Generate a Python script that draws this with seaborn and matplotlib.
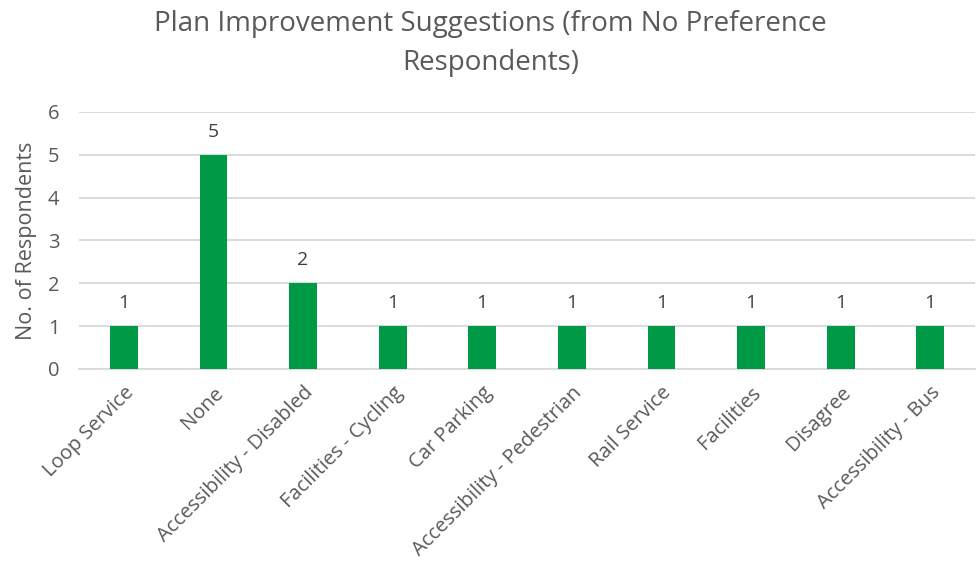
import matplotlib
matplotlib.use("Agg")
import matplotlib.pyplot as plt
import seaborn as sns
import pandas as pd

categories = ["Loop Service", "None", "Accessibility - Disabled", "Facilities - Cycling",
              "Car Parking", "Accessibility - Pedestrian", "Rail Service", "Facilities",
              "Disagree", "Accessibility - Bus"]
values = [1, 5, 2, 1, 1, 1, 1, 1, 1, 1]
yticks = [0, 1, 2, 3, 4, 5, 6]
title = "Plan Improvement Suggestions (from No Preference\nRespondents)"
ylabel = "No. of Respondents"

sns.set_style("white")
plt.rcParams['font.family'] = ['Open Sans', 'DejaVu Sans']

df = pd.DataFrame({"cat": categories, "val": values})

fig = plt.figure(figsize=(9.77, 5.76), dpi=100)
ax = fig.add_axes([0.0809, 0.3594, 0.9171, 0.4462])

sns.barplot(data=df, x="cat", y="val", color="#009A46", width=0.31, ax=ax,
            saturation=1, edgecolor="none", zorder=3)

ax.set_ylim(0, 6)
ax.set_yticks(yticks)
ax.yaxis.grid(True, color="#D9D9D9", linewidth=1.3, zorder=0)
ax.set_axisbelow(True)
for s in ["top", "right", "left"]:
    ax.spines[s].set_visible(False)
ax.spines["bottom"].set_color("#D9D9D9")
ax.spines["bottom"].set_linewidth(1.3)

gray = "#595959"
ax.tick_params(axis="both", length=0, colors=gray, labelsize=14.5)
ax.tick_params(axis="y", pad=14)
ax.set_xticks(range(len(categories)))
ax.set_xticklabels(categories, rotation=45, ha="right", rotation_mode="anchor")
ax.tick_params(axis="x", pad=10)
ax.set_xlabel("")
ax.set_ylabel(ylabel, color=gray, fontsize=15.5, labelpad=8)

for i, v in enumerate(values):
    ax.annotate(str(v), (i, v), xytext=(0, 10), textcoords="offset points",
                ha="center", va="bottom", color="#404040", fontsize=14)

fig.suptitle(title, x=0.502, y=0.983, color=gray, fontsize=20, va="top",
             linespacing=1.55)

fig.savefig("out.png", dpi=100)
